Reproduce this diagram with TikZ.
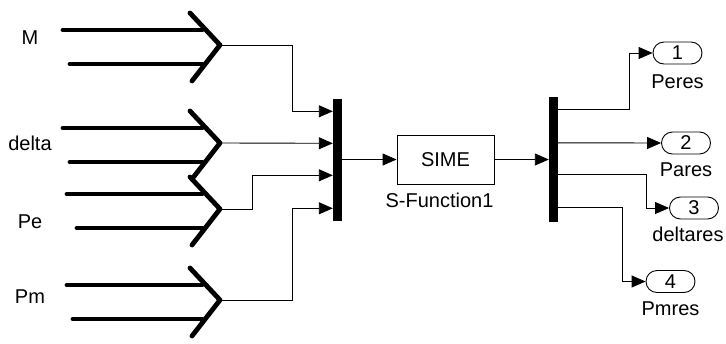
\documentclass[tikz,border=0pt]{standalone}
\usepackage{fontspec}
\setmainfont{Liberation Sans}
\usetikzlibrary{arrows.meta, positioning, calc}

\begin{document}
\begin{tikzpicture}[x=1pt, y=-1pt,
  font=\fontsize{20}{24}\selectfont,
  sig/.style={line width=0.9pt, -{Triangle[length=14pt, width=12pt]}},
  bus/.style={line width=4.8pt, line cap=round, line join=round},
  bar/.style={fill=black, minimum width=9pt, inner sep=0pt},
  sfun/.style={draw, line width=0.9pt, minimum width=97pt, minimum height=49pt, inner sep=0pt},
  outport/.style={draw, line width=0.9pt, rounded corners=11pt, minimum width=49pt, minimum height=22pt, inner sep=0pt},
  lbl/.style={inner sep=0pt}]
  \useasboundingbox (0,0) rectangle (726,343);

  % From blocks (double arrows) with their labels
  \foreach \n/\ty/\ly/\xa/\xb in {M/45/38/63/70, delta/143/143/63/70, Pe/209/222/67/77, Pm/300/297/67/73} {
    \draw[bus] (\xa,\ty-15) -- (202,\ty-15);
    \draw[bus] (\xb,\ty+19) -- (202,\ty+19);
    \draw[bus] (190,\ty-32) -- (220,\ty) -- (192,\ty+36);
    \coordinate (tip\n) at (222,\ty);
    \node[lbl] at (30,\ly) {\n};
  }

  % Mux
  \node[bar, minimum height=122pt] (mux) at (337.5,159.5) {};
  \coordinate (mux1) at ($(mux.north west)+(0,13)$);
  \coordinate (mux2) at ($(mux.north west)+(0,45)$);
  \coordinate (mux3) at ($(mux.north west)+(0,77)$);
  \coordinate (mux4) at ($(mux.north west)+(0,110)$);

  \draw[sig] (tipM) -- ++(70,0) |- (mux1);
  \draw[sig] (tipdelta) -- (mux2);
  \draw[sig] (tipPe) -- ++(30,0) |- (mux3);
  \draw[sig] (tipPm) -- ++(70,0) |- (mux4);

  % S-function
  \node[sfun] (sime) at (445.5,159.5) {SIME};
  \node[lbl, below=8pt of sime, xshift=-6pt] {S-Function1};
  \draw[sig] (mux.east) -- (sime.west);

  % Demux
  \node[bar, minimum height=125pt] (demux) at (553.5,159.5) {};
  \draw[sig] (sime.east) -- (demux.west);
  \coordinate (dm1) at ($(demux.north east)+(0,13)$);
  \coordinate (dm2) at ($(demux.north east)+(0,46)$);
  \coordinate (dm3) at ($(demux.north east)+(0,78)$);
  \coordinate (dm4) at ($(demux.north east)+(0,111)$);

  % Outports
  \node[outport] (out1) at (677.5,53) {1};
  \node[outport] (out2) at (686,143) {2};
  \node[outport] (out3) at (694,208) {3};
  \node[outport] (out4) at (670.5,281.5) {4};
  \node[lbl, below=10pt of out1] {Peres};
  \node[lbl, below=8pt of out2] {Pares};
  \node[lbl, below=7pt of out3, xshift=-6pt] {deltares};
  \node[lbl, below=9pt of out4] {Pmres};

  \draw[sig] (dm1) -- ++(71,0) |- (out1.west);
  \draw[sig] (dm2) -- (out2.west);
  \draw[sig] (dm3) -- ++(88,0) |- (out3.west);
  \draw[sig] (dm4) -- ++(64,0) |- (out4.west);
\end{tikzpicture}
\end{document}
